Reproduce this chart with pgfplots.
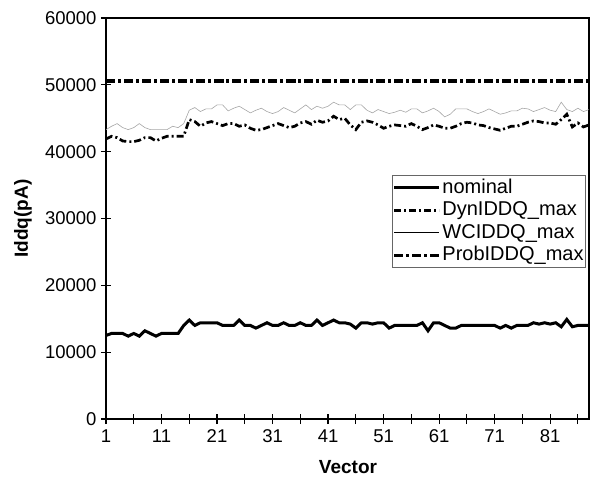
\documentclass[border=0pt]{standalone}
\usepackage{fontspec}
\setmainfont{Liberation Sans}
\usepackage{pgfplots}
\usepackage{pgfplotstable}
\pgfplotsset{compat=1.18}

% x nominal dyn wc prob
\pgfplotstableread{
x  nom    dyn    wc     prob
1  12500  41900  43300  50600
2  12800  42300  43800  50600
3  12800  42100  44200  50600
4  12800  41600  43600  50600
5  12400  41500  43300  50600
6  12800  41500  43600  50600
7  12400  41700  44200  50600
8  13200  42100  43600  50600
9  12800  42100  43300  50600
10 12400  41600  43300  50600
11 12800  42000  43300  50600
12 12800  42300  43300  50600
13 12800  42300  43800  50600
14 12800  42300  43600  50600
15 14000  42300  44200  50600
16 14800  44800  46200  50600
17 14000  44500  46600  50600
18 14400  43800  46000  50600
19 14400  44300  46400  50600
20 14400  44500  46400  50600
21 14400  44200  47000  50600
22 14000  43900  47000  50600
23 14000  44200  46100  50600
24 14000  44200  46500  50600
25 14800  43800  46800  50600
26 14000  44000  46300  50600
27 14000  43500  45800  50600
28 13600  43200  46200  50600
29 14000  43300  46500  50600
30 14400  43600  46000  50600
31 14000  43900  45700  50600
32 14000  44200  46000  50600
33 14400  43900  46600  50600
34 14000  43600  46200  50600
35 14000  43800  45800  50600
36 14400  44300  46400  50600
37 14000  44500  47000  50600
38 14000  44100  46300  50600
39 14800  44700  46800  50600
40 14000  44400  46500  50600
41 14400  44600  46800  50600
42 14800  45300  47400  50600
43 14400  44800  47000  50600
44 14400  45000  47000  50600
45 14200  44000  46300  50600
46 13600  43300  47000  50600
47 14400  44400  47000  50600
48 14400  44600  46200  50600
49 14200  44400  45800  50600
50 14400  44000  46300  50600
51 14400  43500  46000  50600
52 13600  43800  45700  50600
53 14000  44000  45900  50600
54 14000  43900  46200  50600
55 14000  43800  45900  50600
56 14000  44200  46400  50600
57 14000  43800  46400  50600
58 14400  43300  45800  50600
59 13200  43600  46100  50600
60 14400  44000  46500  50600
61 14400  43800  46000  50600
62 14000  43500  45200  50600
63 13600  43500  45600  50600
64 13600  43800  46400  50600
65 14000  44200  46400  50600
66 14000  44400  46400  50600
67 14000  44300  46000  50600
68 14000  44000  45700  50600
69 14000  43900  46000  50600
70 14000  43600  46400  50600
71 14000  43400  46000  50600
72 13600  43200  45600  50600
73 14000  43500  45800  50600
74 13600  43800  46100  50600
75 14000  43800  46100  50600
76 14000  44100  46500  50600
77 14000  44400  46400  50600
78 14400  44600  46000  50600
79 14200  44500  46300  50600
80 14400  44300  46600  50600
81 14200  44300  46200  50600
82 14400  44100  46000  50600
83 13800  44800  47400  50600
84 14900  45600  46300  50600
85 13800  43700  46000  50600
86 14000  44300  46500  50600
87 14000  43700  46000  50600
88 14000  44000  46300  50600
}\datatable

\begin{document}
\begin{tikzpicture}
\useasboundingbox (0,0) rectangle (594bp,483bp);
\begin{axis}[
  at={(106bp,64bp)}, anchor=south west,
  scale only axis, width=483bp, height=401bp,
  xmin=1, xmax=88, ymin=0, ymax=60000,
  xtick={1,6,...,86},
  xticklabels={1,,11,,21,,31,,41,,51,,61,,71,,81,},
  ytick={0,10000,...,60000},
  xtick pos=bottom, ytick pos=left,
  tick align=center, major tick length=10bp,
  scaled y ticks=false,
  /pgf/number format/.cd, 1000 sep={}, assume math mode=true, /pgfplots/.cd,
  axis line style={line width=1.2bp},
  tick style={line width=1.2bp, black},
  tick label style={font=\fontsize{18.5bp}{22bp}\selectfont},
  xticklabel style={yshift=-2bp},
  yticklabel style={xshift=-1bp},
  xlabel={Vector}, ylabel={Iddq(pA)},
  label style={font=\fontsize{19bp}{22bp}\selectfont\bfseries},
  xlabel style={at={(axis description cs:0.501,-0.12)}, anchor=center},
  ylabel style={at={(axis description cs:-0.172,0.5)}, anchor=center},
  legend style={at={(axis description cs:0.592,0.608)}, anchor=north west,
    draw=black!60, line width=1bp, fill=white,
    font=\fontsize{20bp}{22bp}\selectfont,
    inner xsep=0bp, inner ysep=1bp, row sep=0bp,
    cells={anchor=west},
    nodes={inner sep=1.5bp, text height=15bp, text depth=4.5bp}},
  legend image code/.code={\draw[#1] (0bp,0bp) -- (45bp,0bp);},
]
\addplot[black, line width=3bp] table[x=x, y=nom] {\datatable};
\addlegendentry{nominal}
\addplot[black, line width=2.7bp, dash pattern=on 7bp off 3bp on 2bp off 3bp] table[x=x, y=dyn] {\datatable};
\addlegendentry{DynIDDQ\_max}
\addplot[black!35, line width=0.6bp, forget plot] table[x=x, y=wc] {\datatable};
\addlegendimage{black, line width=1bp}
\addlegendentry{WCIDDQ\_max}
\addplot[black, line width=3.5bp, dash pattern=on 9bp off 3bp on 3bp off 3bp] table[x=x, y=prob] {\datatable};
\addlegendentry{ProbIDDQ\_max}
\end{axis}
\end{tikzpicture}
\end{document}
